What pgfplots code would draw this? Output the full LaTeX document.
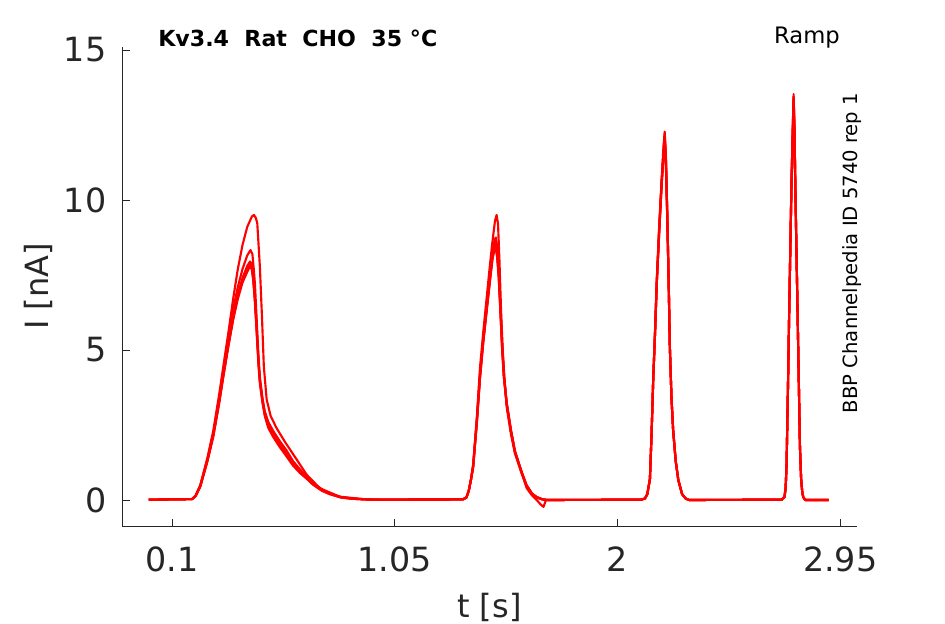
\documentclass[border=0pt]{standalone}
\usepackage{fontspec}
\setmainfont{DejaVu Sans}
\usepackage{pgfplots}
\pgfplotsset{compat=1.18}
\definecolor{axgray}{HTML}{262626}
\begin{document}
\begin{tikzpicture}
\path[use as bounding box] (0,0) rectangle (708.75pt,468pt);
\begin{axis}[
  at={(91.7pt,73.5pt)}, anchor=south west,
  scale only axis, width=550.8pt, height=359.25pt,
  xmin=-0.113, xmax=3.02, ymin=-0.867, ymax=15.1,
  axis x line*=bottom, axis y line*=left,
  axis line style={axgray, line width=0.6pt},
  tick align=inside, major tick length=5.6pt,
  tick style={axgray, line width=0.6pt},
  xtick={0.1,1.05,2,2.95}, xticklabels={0.1,1.05,2,2.95},
  ytick={0,5,10,15},
  /pgf/number format/assume math mode=true,
  ticklabel style={font=\fontsize{25}{30}\selectfont, text=axgray, inner sep=0pt},
  xticklabel style={anchor=base, yshift=-34.3pt},
  yticklabel style={anchor=east, xshift=-11.7pt},
  xlabel={t [s]}, ylabel={I [nA]},
  label style={font=\fontsize{24}{29}\selectfont, text=axgray, inner sep=0pt},
  xlabel style={at={(axis description cs:0.5,-0.19)}, anchor=base},
  ylabel style={at={(axis description cs:-0.1008,0.5)}, anchor=base},
  tr/.style={color=red, line width=1.6pt, line join=round, mark=none},
]
% trace A
\addplot[tr] coordinates {(0,0.01) (0.10,0.02) (0.185,0.03) (0.20,0.15) (0.22,0.5) (0.25,1.4) (0.275,2.3) (0.30,3.5) (0.318,4.45) (0.34,5.6) (0.36,6.7) (0.38,7.7) (0.40,8.5) (0.42,9.1) (0.44,9.45) (0.449,9.5) (0.457,9.4) (0.463,9.22) (0.474,7.78) (0.483,6.1) (0.491,4.44) (0.503,3.35) (0.52,2.8) (0.545,2.4) (0.58,1.95) (0.631,1.35) (0.673,0.85) (0.730,0.39) (0.815,0.11) (0.915,0.03) (1.0,0.01) (1.34,0.02) (1.355,0.08) (1.365,0.3) (1.375,0.7) (1.384,1.2) (1.40,2.8) (1.413,4.4) (1.427,5.6) (1.441,6.7) (1.455,7.8) (1.466,8.6) (1.477,9.3) (1.484,9.5) (1.490,9.2) (1.496,8.0) (1.503,6.3) (1.51,5.0) (1.518,4.0) (1.527,3.1) (1.545,2.2) (1.562,1.56) (1.59,0.9) (1.612,0.44) (1.635,0.2) (1.655,0.1) (1.68,0.02) (1.70,0) (2.10,0.01) (2.117,0.05) (2.127,0.2) (2.138,0.7) (2.145,2.2) (2.152,4.0) (2.16,5.7) (2.167,7.3) (2.178,9.2) (2.188,10.7) (2.196,11.8) (2.201,12.28) (2.206,11.5) (2.212,9.56) (2.218,7.3) (2.223,5.1) (2.23,3.4) (2.237,2.33) (2.248,1.3) (2.259,0.67) (2.275,0.2) (2.29,0.05) (2.305,0) (2.70,0.01) (2.712,0.1) (2.717,0.4) (2.721,1.22) (2.727,3.8) (2.732,6.22) (2.737,8.5) (2.742,10.67) (2.747,12.3) (2.751,13.53) (2.755,12.3) (2.758,10.67) (2.763,8.4) (2.768,6.22) (2.773,4.0) (2.778,1.78) (2.783,0.7) (2.788,0.25) (2.792,0.1) (2.80,0.0) (2.90,0)};
% trace B
\addplot[tr] coordinates {(0,0.01) (0.10,0.02) (0.185,0.03) (0.20,0.14) (0.22,0.48) (0.25,1.35) (0.275,2.2) (0.30,3.35) (0.318,4.3) (0.34,5.4) (0.36,6.35) (0.38,7.1) (0.40,7.7) (0.42,8.15) (0.434,8.33) (0.442,8.2) (0.448,7.7) (0.453,7.2) (0.458,6.4) (0.463,5.6) (0.468,4.8) (0.474,4.1) (0.485,3.4) (0.495,2.95) (0.51,2.6) (0.531,2.3) (0.56,1.95) (0.588,1.65) (0.615,1.3) (0.645,1.02) (0.675,0.77) (0.702,0.56) (0.74,0.35) (0.773,0.22) (0.82,0.1) (0.87,0.05) (0.95,0.01) (1.34,0.02) (1.355,0.08) (1.365,0.3) (1.375,0.7) (1.384,1.15) (1.40,2.7) (1.413,4.2) (1.427,5.4) (1.441,6.4) (1.455,7.4) (1.466,8.2) (1.476,8.7) (1.481,8.75) (1.487,8.4) (1.494,7.6) (1.501,6.4) (1.508,5.2) (1.516,4.1) (1.527,3.2) (1.545,2.3) (1.562,1.6) (1.59,0.95) (1.612,0.5) (1.635,0.22) (1.655,0.1) (1.68,0.02) (1.70,0) (2.10,0.01) (2.117,0.05) (2.127,0.2) (2.138,0.7) (2.145,2.2) (2.152,4.0) (2.16,5.6) (2.167,7.2) (2.178,9.1) (2.188,10.6) (2.196,11.6) (2.201,12.1) (2.206,11.4) (2.212,9.5) (2.218,7.3) (2.223,5.1) (2.23,3.4) (2.237,2.33) (2.248,1.3) (2.259,0.67) (2.275,0.2) (2.29,0.05) (2.305,0) (2.70,0.01) (2.712,0.1) (2.717,0.4) (2.721,1.2) (2.727,3.8) (2.732,6.2) (2.737,8.4) (2.742,10.6) (2.747,12.2) (2.751,13.4) (2.755,12.2) (2.758,10.6) (2.763,8.4) (2.768,6.2) (2.773,4.0) (2.778,1.78) (2.783,0.7) (2.788,0.25) (2.792,0.1) (2.80,0.0) (2.90,0)};
% trace C
\addplot[tr] coordinates {(0,0.01) (0.10,0.02) (0.185,0.03) (0.20,0.13) (0.22,0.46) (0.25,1.3) (0.275,2.15) (0.30,3.25) (0.318,4.15) (0.34,5.2) (0.36,6.1) (0.38,6.85) (0.40,7.4) (0.42,7.8) (0.432,7.95) (0.440,7.85) (0.446,7.4) (0.452,6.8) (0.458,6.0) (0.463,5.3) (0.468,4.6) (0.474,3.95) (0.485,3.3) (0.495,2.85) (0.51,2.45) (0.531,2.15) (0.56,1.8) (0.588,1.5) (0.615,1.2) (0.645,0.95) (0.675,0.72) (0.702,0.52) (0.74,0.32) (0.773,0.2) (0.82,0.09) (0.87,0.04) (0.95,0.01) (1.34,0.02) (1.355,0.08) (1.365,0.3) (1.375,0.7) (1.384,1.1) (1.40,2.65) (1.413,4.1) (1.427,5.3) (1.441,6.3) (1.455,7.3) (1.466,8.05) (1.475,8.45) (1.480,8.5) (1.486,8.2) (1.493,7.5) (1.500,6.4) (1.507,5.2) (1.515,4.15) (1.527,3.25) (1.545,2.35) (1.562,1.65) (1.59,0.95) (1.612,0.4) (1.635,0.15) (1.655,0.0) (1.672,-0.15) (1.684,-0.23) (1.69,-0.1) (1.695,0) (1.70,0) (2.10,0.01) (2.117,0.05) (2.127,0.2) (2.138,0.7) (2.145,2.2) (2.152,4.0) (2.16,5.6) (2.167,7.2) (2.178,9.0) (2.188,10.5) (2.196,11.5) (2.201,12.0) (2.206,11.3) (2.212,9.4) (2.218,7.2) (2.223,5.1) (2.23,3.4) (2.237,2.33) (2.248,1.3) (2.259,0.67) (2.275,0.2) (2.29,0.05) (2.305,0) (2.70,0.01) (2.712,0.1) (2.717,0.4) (2.721,1.2) (2.727,3.8) (2.732,6.2) (2.737,8.4) (2.742,10.5) (2.747,12.1) (2.751,13.3) (2.755,12.1) (2.758,10.5) (2.763,8.3) (2.768,6.2) (2.773,4.0) (2.778,1.78) (2.783,0.7) (2.788,0.25) (2.792,0.1) (2.80,0.0) (2.90,0)};
% trace D
\addplot[tr] coordinates {(0,0.01) (0.10,0.02) (0.185,0.03) (0.20,0.13) (0.22,0.45) (0.25,1.28) (0.275,2.1) (0.30,3.2) (0.318,4.1) (0.34,5.15) (0.36,6.05) (0.38,6.8) (0.40,7.3) (0.42,7.7) (0.432,7.85) (0.440,7.75) (0.446,7.3) (0.452,6.7) (0.458,5.9) (0.463,5.2) (0.468,4.5) (0.474,3.9) (0.485,3.25) (0.495,2.8) (0.51,2.4) (0.531,2.1) (0.56,1.75) (0.588,1.45) (0.615,1.15) (0.645,0.9) (0.675,0.7) (0.702,0.5) (0.74,0.3) (0.773,0.19) (0.82,0.08) (0.87,0.04) (0.95,0.01) (1.34,0.02) (1.355,0.08) (1.365,0.3) (1.375,0.7) (1.384,1.1) (1.40,2.6) (1.413,4.05) (1.427,5.25) (1.441,6.25) (1.455,7.25) (1.466,8.0) (1.475,8.35) (1.480,8.4) (1.486,8.1) (1.493,7.4) (1.500,6.3) (1.507,5.1) (1.515,4.1) (1.527,3.2) (1.545,2.3) (1.562,1.6) (1.59,0.92) (1.612,0.45) (1.635,0.2) (1.655,0.08) (1.68,0.02) (1.70,0) (2.10,0.01) (2.117,0.05) (2.127,0.2) (2.138,0.7) (2.145,2.2) (2.152,4.0) (2.16,5.6) (2.167,7.2) (2.178,9.0) (2.188,10.5) (2.196,11.5) (2.201,11.9) (2.206,11.2) (2.212,9.4) (2.218,7.2) (2.223,5.1) (2.23,3.4) (2.237,2.33) (2.248,1.3) (2.259,0.67) (2.275,0.2) (2.29,0.05) (2.305,0) (2.70,0.01) (2.712,0.1) (2.717,0.4) (2.721,1.2) (2.727,3.8) (2.732,6.2) (2.737,8.4) (2.742,10.5) (2.747,12.0) (2.751,13.2) (2.755,12.0) (2.758,10.5) (2.763,8.3) (2.768,6.2) (2.773,4.0) (2.778,1.78) (2.783,0.7) (2.788,0.25) (2.792,0.1) (2.80,0.0) (2.90,0)};
% trace E
\addplot[tr] coordinates {(0,0.01) (0.10,0.02) (0.185,0.03) (0.20,0.14) (0.22,0.47) (0.25,1.32) (0.275,2.15) (0.30,3.25) (0.318,4.15) (0.34,5.15) (0.36,6.0) (0.38,6.7) (0.40,7.25) (0.42,7.6) (0.431,7.78) (0.439,7.7) (0.446,7.35) (0.452,6.8) (0.458,6.1) (0.463,5.4) (0.468,4.7) (0.474,4.0) (0.485,3.35) (0.495,2.9) (0.51,2.5) (0.531,2.2) (0.56,1.85) (0.588,1.55) (0.615,1.25) (0.645,0.98) (0.675,0.74) (0.702,0.54) (0.74,0.34) (0.773,0.21) (0.82,0.09) (0.87,0.04) (0.95,0.01) (1.34,0.02) (1.355,0.08) (1.365,0.3) (1.375,0.7) (1.384,1.12) (1.40,2.65) (1.413,4.1) (1.427,5.3) (1.441,6.35) (1.455,7.35) (1.466,8.15) (1.475,8.55) (1.480,8.6) (1.486,8.3) (1.493,7.5) (1.500,6.35) (1.507,5.15) (1.515,4.1) (1.527,3.2) (1.545,2.3) (1.562,1.62) (1.59,0.95) (1.612,0.48) (1.635,0.2) (1.655,0.08) (1.68,0.02) (1.70,0) (2.10,0.01) (2.117,0.05) (2.127,0.2) (2.138,0.7) (2.145,2.2) (2.152,4.0) (2.16,5.6) (2.167,7.2) (2.178,9.1) (2.188,10.6) (2.196,11.6) (2.201,12.2) (2.206,11.4) (2.212,9.5) (2.218,7.3) (2.223,5.1) (2.23,3.4) (2.237,2.33) (2.248,1.3) (2.259,0.67) (2.275,0.2) (2.29,0.05) (2.305,0) (2.70,0.01) (2.712,0.1) (2.717,0.4) (2.721,1.2) (2.727,3.8) (2.732,6.2) (2.737,8.4) (2.742,10.6) (2.747,12.2) (2.751,13.45) (2.755,12.2) (2.758,10.6) (2.763,8.4) (2.768,6.2) (2.773,4.0) (2.778,1.78) (2.783,0.7) (2.788,0.25) (2.792,0.1) (2.80,0.0) (2.90,0)};
\end{axis}
\node[anchor=base west, inner sep=0pt, font=\bfseries\fontsize{16.6}{19}\selectfont] at (118.5pt,433pt) {Kv3.4\ \ Rat\ \ CHO\ \ 35 °C};
\node[anchor=base, inner sep=0pt, font=\fontsize{17}{20}\selectfont] at (605.25pt,435.5pt) {Ramp};
\node[anchor=base, rotate=90, inner sep=0pt, font=\fontsize{14.7}{18}\selectfont] at (643pt,278.25pt) {BBP Channelpedia ID 5740 rep 1};
\end{tikzpicture}
\end{document}
